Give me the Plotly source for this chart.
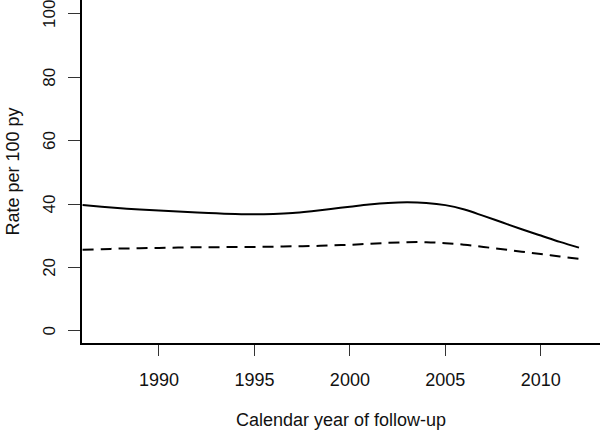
import plotly.graph_objects as go

years = list(range(1986, 2013))
rate_solid = [39.7, 39.2, 38.7, 38.3, 38.0, 37.7, 37.4, 37.1, 36.9, 36.8,
              36.9, 37.2, 37.8, 38.5, 39.2, 39.9, 40.4, 40.6, 40.4, 39.7,
              38.3, 36.3, 34.2, 32.1, 30.1, 28.1, 26.3]
rate_dashed = [25.6, 25.8, 26.0, 26.1, 26.2, 26.3, 26.4, 26.4, 26.5, 26.5,
               26.6, 26.7, 26.8, 27.0, 27.2, 27.5, 27.8, 28.0, 28.0, 27.7,
               27.2, 26.5, 25.8, 25.0, 24.3, 23.5, 22.8]
x_ticks = [1990, 1995, 2000, 2005, 2010]
y_ticks = [0, 20, 40, 60, 80, 100]
y_ticktext = [str(v) + "\u00a0" for v in y_ticks]

font = "Liberation Sans, Arial, Helvetica, sans-serif"

fig = go.Figure()
fig.add_trace(go.Scatter(x=years, y=rate_solid, mode="lines",
                         line=dict(color="black", width=2, shape="spline"),
                         showlegend=False, hoverinfo="skip"))
fig.add_trace(go.Scatter(x=years, y=rate_dashed, mode="lines",
                         line=dict(color="black", width=2, shape="spline", dash="11px,7px"),
                         showlegend=False, hoverinfo="skip"))

fig.update_layout(
    width=600, height=430,
    margin=dict(l=82, r=0, t=0, b=87, autoexpand=False),
    paper_bgcolor="white", plot_bgcolor="white",
    font=dict(family=font, size=18, color="#111"),
    xaxis=dict(range=[1985.97, 2013.1], tickvals=x_ticks,
               showgrid=False, zeroline=False, automargin=False,
               showline=True, linecolor="black", linewidth=2,
               ticks="outside", ticklen=11, tickwidth=1, tickcolor="#333",
               ticklabelstandoff=8, ticklabeloverflow="allow",
               title=dict(text="Calendar year of follow-up", standoff=25,
                          font=dict(size=18))),
    yaxis=dict(range=[-3.79, 104.4], tickvals=y_ticks, ticktext=y_ticktext,
               showgrid=False, zeroline=False, automargin=False,
               showline=True, linecolor="black", linewidth=2,
               ticks="outside", ticklen=12, tickwidth=1, tickcolor="#333",
               tickangle=-90, ticklabelstandoff=6, ticklabeloverflow="allow",
               tickfont=dict(size=17),
               title=dict(text="Rate per 100 py", standoff=16,
                          font=dict(size=18))),
)

fig.write_html("out.html", config={"displayModeBar": False},
               post_script="document.body.style.margin='0';")
